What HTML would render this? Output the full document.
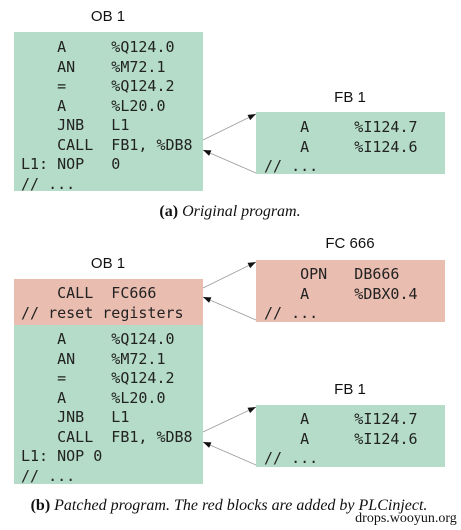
<!DOCTYPE html>
<html><head><meta charset="utf-8"><style>
body{margin:0;width:461px;height:530px;background:#fff;position:relative;overflow:hidden}
.b{position:absolute}
.g{background:#b4dcc8}.r{background:#eabdb1}
.t{position:absolute;font-family:"DejaVu Sans Mono","Liberation Mono",monospace;font-size:15px;color:#222;white-space:pre;line-height:19.5px}
.l{position:absolute;font-family:"Liberation Sans",sans-serif;font-size:15px;color:#111;transform:translateX(-50%)}
.c{position:absolute;font-family:"Liberation Serif",serif;font-size:16px;color:#111;white-space:nowrap;transform:translateX(-50%)}
</style></head><body>
<div class="b g" style="left:14px;top:32px;width:189px;height:159px"></div>
<div class="b g" style="left:256px;top:112px;width:189px;height:62px"></div>
<div class="b r" style="left:256px;top:260px;width:189px;height:62px"></div>
<div class="b r" style="left:14px;top:279px;width:189px;height:46px"></div>
<div class="b g" style="left:14px;top:325px;width:189px;height:159px"></div>
<div class="b g" style="left:256px;top:405px;width:189px;height:62px"></div>

<div class="l" style="left:108px;top:8px">OB 1</div>
<div class="l" style="left:350px;top:89px">FB 1</div>
<div class="l" style="left:350px;top:235px">FC 666</div>
<div class="l" style="left:108px;top:255px">OB 1</div>
<div class="l" style="left:350px;top:381px">FB 1</div>

<svg class="b" style="left:0;top:0" width="461" height="530">
<defs><marker id="a" markerWidth="8" markerHeight="6" refX="8" refY="3" orient="auto" markerUnits="userSpaceOnUse"><path d="M0,0L8,3L0,6z" fill="#111"/></marker></defs>
<g stroke="#999" stroke-width="0.8" marker-end="url(#a)">
<line x1="203" y1="140" x2="256" y2="114"/><line x1="256" y1="173" x2="203" y2="150"/>
<line x1="203" y1="288" x2="256" y2="262"/><line x1="256" y1="320" x2="203" y2="297"/>
<line x1="203" y1="432" x2="256" y2="407"/><line x1="256" y1="465" x2="203" y2="442"/>
</g></svg>

<div class="t" style="left:21px;top:38px">    A     %Q124.0
    AN    %M72.1
    =     %Q124.2
    A     %L20.0
    JNB   L1
    CALL  FB1, %DB8
L1: NOP   0
// ...</div>
<div class="t" style="left:264px;top:118px">    A     %I124.7
    A     %I124.6
// ...</div>
<div class="t" style="left:264px;top:265px">    OPN   DB666
    A     %DBX0.4
// ...</div>
<div class="t" style="left:21px;top:284px">    CALL  FC666
// reset registers</div>
<div class="t" style="left:21px;top:330px">    A     %Q124.0
    AN    %M72.1
    =     %Q124.2
    A     %L20.0
    JNB   L1
    CALL  FB1, %DB8
L1: NOP 0
// ...</div>
<div class="t" style="left:264px;top:410px">    A     %I124.7
    A     %I124.6
// ...</div>

<div class="c" style="left:230px;top:203px"><b>(a)</b> <i>Original program.</i></div>
<div class="c" style="left:229px;top:497px"><b>(b)</b> <i>Patched program. The red blocks are added by PLCinject.</i></div>
<div class="c" style="left:406px;top:511px;font-size:14px">drops.wooyun.org</div>
</body></html>
